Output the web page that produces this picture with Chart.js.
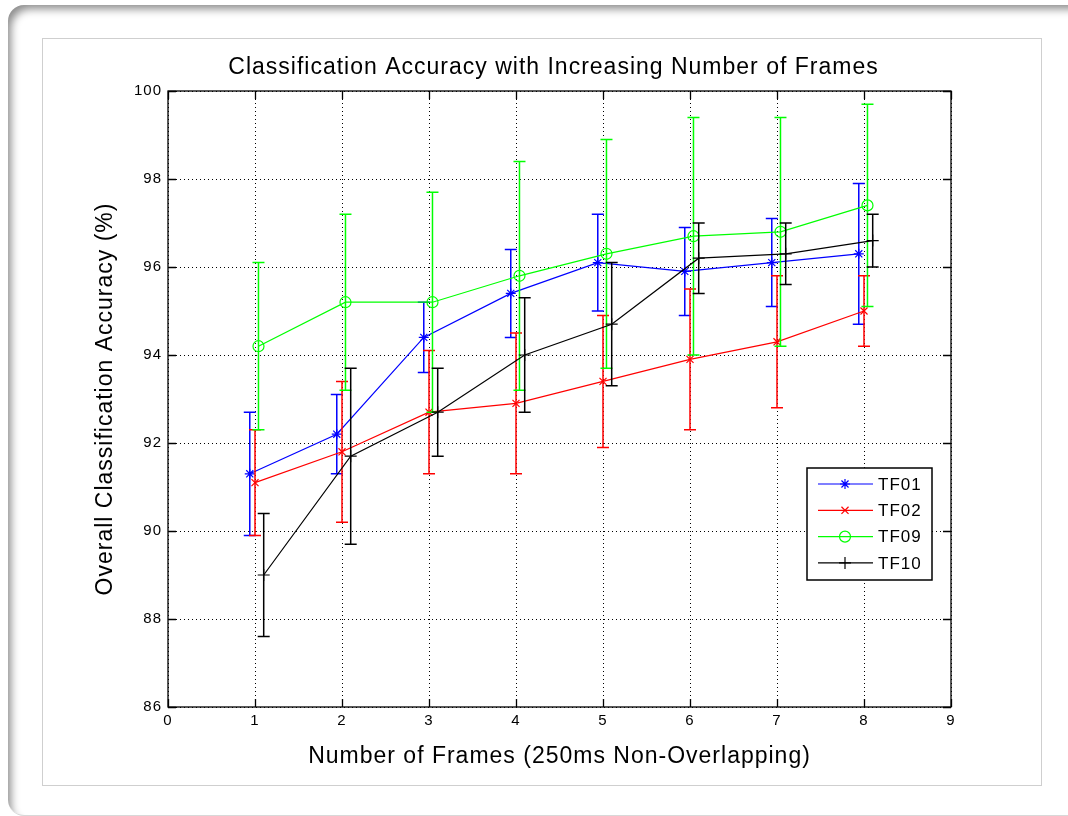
<!DOCTYPE html>
<html>
<head>
<meta charset="utf-8">
<title>Classification Accuracy with Increasing Number of Frames</title>
<script src="https://cdn.jsdelivr.net/npm/chart.js@4.4.1/dist/chart.umd.min.js"></script>
<style>
  html, body { margin: 0; padding: 0; background: #ffffff; }
  body { width: 1068px; height: 816px; position: relative; overflow: hidden; }
  .card {
    position: absolute; left: 8px; top: 5px; width: 1090px; height: 810px;
    border-radius: 16px; background: #ffffff;
    box-shadow: inset 6px 7px 9px -3px rgba(0,0,0,0.45);
    border-bottom: 1px solid #d8d8d8;
  }
  .frame {
    position: absolute; left: 42px; top: 38px; width: 998px; height: 746px;
    border: 1px solid #cfcfcf; background: #ffffff;
  }
  #chart { position: absolute; left: 0; top: 0; }
</style>
</head>
<body>
<div class="card"></div>
<div class="frame"></div>
<canvas id="chart" width="1068" height="816"></canvas>
<script>
// Number of 250 ms frames combined per decision
const frames = [1, 2, 3, 4, 5, 6, 7, 8];

// Mean overall accuracy (%) and half-width of the error bars per subject
const tf01Mean = [91.3, 92.2, 94.4, 95.4, 96.1, 95.9, 96.1, 96.3];
const tf01Err  = [1.4, 0.9, 0.8, 1.0, 1.1, 1.0, 1.0, 1.6];
const tf02Mean = [91.1, 91.8, 92.7, 92.9, 93.4, 93.9, 94.3, 95.0];
const tf02Err  = [1.2, 1.6, 1.4, 1.6, 1.5, 1.6, 1.5, 0.8];
const tf09Mean = [94.2, 95.2, 95.2, 95.8, 96.3, 96.7, 96.8, 97.4];
const tf09Err  = [1.9, 2.0, 2.5, 2.6, 2.6, 2.7, 2.6, 2.3];
const tf10Mean = [89.0, 91.7, 92.7, 94.0, 94.7, 96.2, 96.3, 96.6];
const tf10Err  = [1.4, 2.0, 1.0, 1.3, 1.4, 0.8, 0.7, 0.6];

// Small horizontal shift per subject so the error bars do not overlap
const seriesNames = ['TF01', 'TF02', 'TF09', 'TF10'];
const seriesShift = [-0.06, 0, 0.04, 0.1];

// Axis ticks
const xTicks = [0, 1, 2, 3, 4, 5, 6, 7, 8, 9];
const yTicks = [86, 88, 90, 92, 94, 96, 98, 100];

const chartTitle = 'Classification Accuracy with Increasing Number of Frames';
const FONT = "'Liberation Sans', Arial, Helvetica, sans-serif";

const seriesStyle = [
  { color: '#0000ff', pointStyle: 'star',     radius: 5 },
  { color: '#ff0000', pointStyle: 'crossRot', radius: 5 },
  { color: '#00ff00', pointStyle: 'circle',   radius: 5.5 },
  { color: '#000000', pointStyle: 'cross',    radius: 6 }
];
const means = [tf01Mean, tf02Mean, tf09Mean, tf10Mean];
const errs  = [tf01Err, tf02Err, tf09Err, tf10Err];

const datasets = seriesNames.map((name, s) => ({
  label: name,
  data: frames.map((f, i) => ({ x: f + seriesShift[s], y: means[s][i], err: errs[s][i] })),
  borderColor: seriesStyle[s].color,
  backgroundColor: 'rgba(0,0,0,0)',
  borderWidth: 1.2,
  pointStyle: seriesStyle[s].pointStyle,
  pointRadius: seriesStyle[s].radius,
  pointBorderWidth: 1.2,
  pointBorderColor: seriesStyle[s].color,
  pointBackgroundColor: 'rgba(0,0,0,0)',
  tension: 0,
  order: seriesNames.length - s
}));

// Slightly spaced-out lettering, like the original plotting tool
const letterSpacing = {
  id: 'letterSpacing',
  beforeDraw(chart) { chart.ctx.letterSpacing = '1px'; }
};

// Title centred over the axes box
const axesTitle = {
  id: 'axesTitle',
  afterDraw(chart) {
    const { ctx, chartArea: a } = chart;
    ctx.save();
    ctx.letterSpacing = '1px';
    ctx.fillStyle = '#000';
    ctx.font = "23px " + FONT;
    ctx.textAlign = 'center';
    ctx.textBaseline = 'middle';
    ctx.fillText(chartTitle, (a.left + a.right) / 2 - 6, a.top - 23);
    ctx.restore();
  }
};

// Vertical error bars with caps, drawn right after each line
const errorBars = {
  id: 'errorBars',
  afterDatasetDraw(chart, args) {
    const ds = chart.data.datasets[args.index];
    const xs = chart.scales.x, ys = chart.scales.y;
    const ctx = chart.ctx;
    const cap = 6;
    ctx.save();
    ctx.strokeStyle = ds.borderColor;
    ctx.lineWidth = 1.5;
    ds.data.forEach(p => {
      const px = xs.getPixelForValue(p.x);
      const top = ys.getPixelForValue(p.y + p.err);
      const bot = ys.getPixelForValue(p.y - p.err);
      ctx.beginPath();
      ctx.moveTo(px, top); ctx.lineTo(px, bot);
      ctx.moveTo(px - cap, top); ctx.lineTo(px + cap, top);
      ctx.moveTo(px - cap, bot); ctx.lineTo(px + cap, bot);
      ctx.stroke();
    });
    ctx.restore();
  }
};

// Closed axes box with inward tick marks on all four sides
const axesBox = {
  id: 'axesBox',
  afterDatasetsDraw(chart) {
    const { ctx, chartArea: a } = chart;
    const xs = chart.scales.x, ys = chart.scales.y;
    const tl = 8;
    ctx.save();
    ctx.strokeStyle = '#000';
    ctx.lineWidth = 1.3;
    ctx.beginPath();
    xTicks.forEach(v => {
      const px = Math.round(xs.getPixelForValue(v)) + 0.5;
      ctx.moveTo(px, a.bottom); ctx.lineTo(px, a.bottom - tl);
      ctx.moveTo(px, a.top); ctx.lineTo(px, a.top + tl);
    });
    yTicks.forEach(v => {
      const py = Math.round(ys.getPixelForValue(v)) + 0.5;
      ctx.moveTo(a.left, py); ctx.lineTo(a.left + tl, py);
      ctx.moveTo(a.right, py); ctx.lineTo(a.right - tl, py);
    });
    ctx.stroke();
    ctx.strokeRect(a.left, a.top, a.right - a.left, a.bottom - a.top);
    ctx.restore();
  }
};

// Boxed legend in the lower right of the axes
const boxLegend = {
  id: 'boxLegend',
  afterDraw(chart) {
    const ctx = chart.ctx;
    const x0 = 807, y0 = 468, w = 125, h = 112;
    const rowH = 26.3, firstRow = 484;
    ctx.save();
    ctx.fillStyle = '#ffffff';
    ctx.fillRect(x0, y0, w, h);
    ctx.strokeStyle = '#000';
    ctx.lineWidth = 1.5;
    ctx.strokeRect(x0, y0, w, h);
    chart.data.datasets.forEach((ds, i) => {
      const y = firstRow + i * rowH;
      ctx.strokeStyle = ds.borderColor;
      ctx.lineWidth = 1.2;
      ctx.beginPath();
      ctx.moveTo(818, y); ctx.lineTo(873, y);
      ctx.stroke();
      ctx.fillStyle = 'rgba(0,0,0,0)';
      Chart.helpers.drawPoint(ctx, {
        pointStyle: ds.pointStyle, radius: ds.pointRadius, borderWidth: 1.2, rotation: 0
      }, 845, y);
      ctx.fillStyle = '#000';
      ctx.letterSpacing = '1px';
      ctx.font = "17px " + FONT;
      ctx.textBaseline = 'middle';
      ctx.textAlign = 'left';
      ctx.fillText(ds.label, 878, y + 1);
    });
    ctx.restore();
  }
};

new Chart(document.getElementById('chart'), {
  type: 'line',
  data: { datasets },
  options: {
    responsive: false,
    animation: false,
    layout: { padding: { left: 0, right: 117, top: 91, bottom: 0 } },
    plugins: {
      legend: { display: false },
      tooltip: { enabled: false },
      title: { display: false }
    },
    scales: {
      x: {
        type: 'linear', min: 0, max: 9,
        afterBuildTicks: s => { s.ticks = xTicks.map(v => ({ value: v })); },
        afterFit: s => { s.height = 109; },
        ticks: { color: '#000', font: { family: FONT, size: 15 }, padding: 5, maxRotation: 0 },
        grid: { color: '#000', lineWidth: 1, drawTicks: false },
        border: { display: false, dash: [1, 3] },
        title: {
          display: true, text: 'Number of Frames (250ms Non-Overlapping)', color: '#000',
          font: { family: FONT, size: 23, weight: 'normal' }, padding: { top: 0, bottom: 45.2 }
        }
      },
      y: {
        type: 'linear', min: 86, max: 100,
        afterBuildTicks: s => { s.ticks = yTicks.map(v => ({ value: v })); },
        afterFit: s => { s.width = 168; },
        ticks: { color: '#000', font: { family: FONT, size: 15 }, padding: 6 },
        grid: { color: '#000', lineWidth: 1, drawTicks: false },
        border: { display: false, dash: [1, 3] },
        title: {
          display: true, text: 'Overall Classification Accuracy (%)', color: '#000',
          font: { family: FONT, size: 23, weight: 'normal' }, padding: { top: 92.2, bottom: 0 }
        }
      }
    }
  },
  plugins: [letterSpacing, errorBars, axesBox, axesTitle, boxLegend]
});
</script>
</body>
</html>
